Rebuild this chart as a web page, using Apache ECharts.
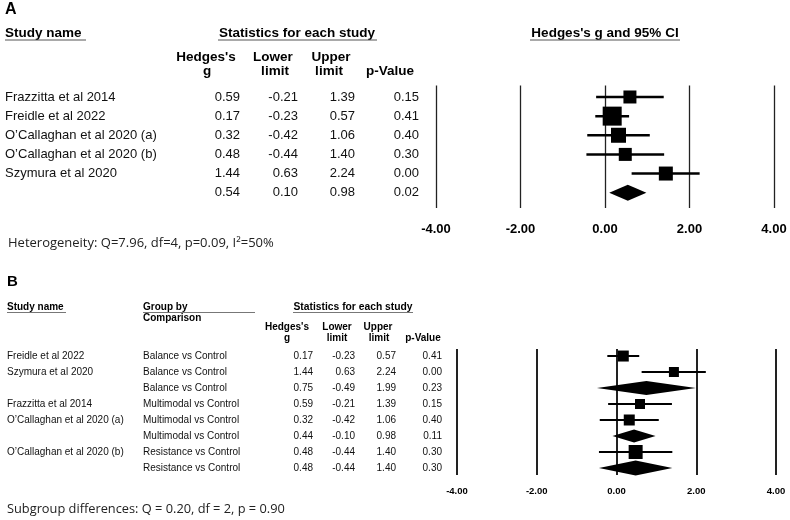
<!DOCTYPE html>
<html>
<head>
<meta charset="utf-8">
<script src="https://cdn.jsdelivr.net/npm/echarts@6/dist/echarts.min.js"></script>
<style>html,body{margin:0;padding:0;background:#fff}#c{width:790px;height:520px}</style>
</head>
<body>
<div id="c"></div>
<script>
// ---------- DATA ----------
const tickValues = [-4, -2, 0, 2, 4];

// Panel A
const studiesA = ["Frazzitta et al 2014", "Freidle et al 2022", "O\u2019Callaghan et al 2020 (a)", "O\u2019Callaghan et al 2020 (b)", "Szymura et al 2020", ""];
const gA   = [0.59, 0.17, 0.32, 0.48, 1.44, 0.54];
const lowA = [-0.21, -0.23, -0.42, -0.44, 0.63, 0.10];
const upA  = [1.39, 0.57, 1.06, 1.40, 2.24, 0.98];
const pA   = [0.15, 0.41, 0.40, 0.30, 0.00, 0.02];
const summaryA = [false, false, false, false, false, true];
const heterogeneityA = "Heterogeneity: Q=7.96, df=4, p=0.09, I\u00B2=50%";

// Panel B
const studiesB = ["Freidle et al 2022", "Szymura et al 2020", "", "Frazzitta et al 2014", "O\u2019Callaghan et al 2020 (a)", "", "O\u2019Callaghan et al 2020 (b)", ""];
const groupsB = ["Balance vs Control", "Balance vs Control", "Balance vs Control", "Multimodal vs Control", "Multimodal vs Control", "Multimodal vs Control", "Resistance vs Control", "Resistance vs Control"];
const gB   = [0.17, 1.44, 0.75, 0.59, 0.32, 0.44, 0.48, 0.48];
const lowB = [-0.23, 0.63, -0.49, -0.21, -0.42, -0.10, -0.44, -0.44];
const upB  = [0.57, 2.24, 1.99, 1.39, 1.06, 0.98, 1.40, 1.40];
const pB   = [0.41, 0.00, 0.23, 0.15, 0.40, 0.11, 0.30, 0.30];
const summaryB = [false, false, true, false, false, true, false, true];
const subgroupB = "Subgroup differences: Q = 0.20, df = 2, p = 0.90";

// ---------- STYLE (marker pixel sizes, layout) ----------
const boxA = [13, 19, 15, 13, 14, 16];
const boxB = [11, 10, 14, 10, 11, 13, 14, 15];

const SANS = "'Liberation Sans', Arial, Helvetica, sans-serif";
const NOTE = "'Open Sans', 'Noto Sans', sans-serif";

function txt(text, x, y, size, bold, align, color, family) {
  return {
    type: 'text', silent: true,
    style: {
      text: text, x: x, y: y,
      font: (bold ? 'bold ' : '') + size + 'px ' + (family || SANS),
      fill: color || '#000',
      align: align || 'left', textAlign: align || 'left',
      verticalAlign: 'middle', textVerticalAlign: 'middle'
    }
  };
}
function hline(x1, x2, y, w, color) {
  return { type: 'line', silent: true, shape: { x1: x1, y1: y, x2: x2, y2: y }, style: { stroke: color || '#555', lineWidth: w || 1 } };
}

// table columns per panel
const colA = { name: 5, g: 240, low: 298, up: 355, p: 419, size: 13 };
const colB = { name: 7, group: 143, g: 313, low: 355, up: 396, p: 442, size: 10 };

function tableSeries(xAxisIndex, yAxisIndex, names, groups, g, low, up, p, col) {
  return {
    type: 'custom', xAxisIndex: xAxisIndex, yAxisIndex: yAxisIndex, silent: true, clip: false, z: 5,
    data: names.map((n, i) => [0, i]),
    renderItem: function (params, api) {
      const i = params.dataIndex;
      const y = api.coord([0, api.value(1)])[1];
      const fill = '#111';
      const ch = [
        txt(names[i], col.name, y, col.size, false, 'left', fill),
        txt(g[i].toFixed(2), col.g, y, col.size, false, 'right', fill),
        txt(low[i].toFixed(2), col.low, y, col.size, false, 'right', fill),
        txt(up[i].toFixed(2), col.up, y, col.size, false, 'right', fill),
        txt(p[i].toFixed(2), col.p, y, col.size, false, 'right', fill)
      ];
      if (groups) ch.push(txt(groups[i], col.group, y, col.size, false, 'left', fill));
      return { type: 'group', children: ch };
    }
  };
}

function forestSeries(xAxisIndex, yAxisIndex, g, low, up, summary, box, lw) {
  return {
    type: 'custom', xAxisIndex: xAxisIndex, yAxisIndex: yAxisIndex, silent: true, clip: false, z: 10,
    data: g.map((v, i) => [v, i, low[i], up[i]]),
    renderItem: function (params, api) {
      const i = params.dataIndex;
      const c = api.coord([api.value(0), api.value(1)]);
      const l = api.coord([api.value(2), api.value(1)]);
      const u = api.coord([api.value(3), api.value(1)]);
      const h = box[i];
      if (summary[i]) {
        return {
          type: 'polygon',
          shape: { points: [[l[0], c[1]], [c[0], c[1] - h / 2], [u[0], c[1]], [c[0], c[1] + h / 2]] },
          style: { fill: '#000' }
        };
      }
      return {
        type: 'group', children: [
          { type: 'line', shape: { x1: l[0], y1: c[1], x2: u[0], y2: c[1] }, style: { stroke: '#000', lineWidth: lw } },
          { type: 'rect', shape: { x: c[0] - h / 2, y: c[1] - h / 2, width: h, height: h }, style: { fill: '#000' } }
        ]
      };
    }
  };
}

function xAx(gridIndex, fontSize, margin, lineW) {
  return {
    type: 'value', gridIndex: gridIndex, min: -4, max: 4, interval: 2,
    axisLine: { show: false }, axisTick: { show: false },
    axisLabel: {
      margin: margin, fontSize: fontSize, fontWeight: 'bold', fontFamily: SANS, color: '#000',
      formatter: v => (tickValues.indexOf(v) >= 0 ? v.toFixed(2) : '')
    },
    splitLine: { show: true, lineStyle: { color: '#222', width: lineW } }
  };
}
function yAx(gridIndex, n, pad0, pad1) {
  return {
    type: 'value', gridIndex: gridIndex, inverse: true, min: -pad0, max: n - 1 + pad1,
    axisLine: { show: false }, axisTick: { show: false }, axisLabel: { show: false }, splitLine: { show: false }
  };
}

const H = 13.5;
const graphics = [
  // Panel A headers
  txt('A', 5, 10, 16, true),
  txt('Study name', 5, 33, H, true), hline(5, 86, 40, 1),
  txt('Statistics for each study', 297, 33, H, true, 'center'), hline(218, 377, 40, 1),
  txt("Hedges's g and 95% CI", 605, 33, H, true, 'center'), hline(530, 680, 40, 1),
  txt("Hedges's", 206, 57, H, true, 'center'), txt('g', 207, 71, H, true, 'center'),
  txt('Lower', 273, 57, H, true, 'center'), txt('limit', 275, 71, H, true, 'center'),
  txt('Upper', 331, 57, H, true, 'center'), txt('limit', 329, 71, H, true, 'center'),
  txt('p-Value', 390, 71, H, true, 'center'),
  txt(heterogeneityA, 8, 243, 13, false, 'left', '#222', NOTE),
  // Panel B headers
  txt('B', 7, 282, 15, true),
  txt('Study name', 7, 307, 10, true), hline(7, 66, 312.5, 1, '#777'),
  txt('Group by', 143, 307, 10, true), hline(143, 255, 312.5, 1, '#777'),
  txt('Comparison', 143, 318, 10, true),
  txt('Statistics for each study', 353, 307, 10.3, true, 'center'), hline(293, 413, 312.5, 1, '#777'),
  txt("Hedges's", 287, 327, 10, true, 'center'), txt('g', 287, 338, 10, true, 'center'),
  txt('Lower', 337, 327, 10, true, 'center'), txt('limit', 337, 338, 10, true, 'center'),
  txt('Upper', 378, 327, 10, true, 'center'), txt('limit', 379, 338, 10, true, 'center'),
  txt('p-Value', 423, 338, 10, true, 'center'),
  txt(subgroupB, 7, 509, 12.8, false, 'left', '#222', NOTE)
];

const chart = echarts.init(document.getElementById('c'), null, { renderer: 'canvas' });
chart.setOption({
  animation: false,
  backgroundColor: '#fff',
  grid: [
    { left: 436, top: 85.5, width: 338, height: 122.5 },
    { left: 457, top: 349, width: 319, height: 126 }
  ],
  xAxis: [xAx(0, 13, 15, 1.3), xAx(1, 9.5, 11, 2)],
  yAxis: [yAx(0, gA.length, 0.6, 0.8), yAx(1, gB.length, 0.44, 0.44)],
  graphic: { elements: graphics },
  series: [
    tableSeries(0, 0, studiesA, null, gA, lowA, upA, pA, colA),
    forestSeries(0, 0, gA, lowA, upA, summaryA, boxA, 2.5),
    tableSeries(1, 1, studiesB, groupsB, gB, lowB, upB, pB, colB),
    forestSeries(1, 1, gB, lowB, upB, summaryB, boxB, 2)
  ]
});
</script>
</body>
</html>
